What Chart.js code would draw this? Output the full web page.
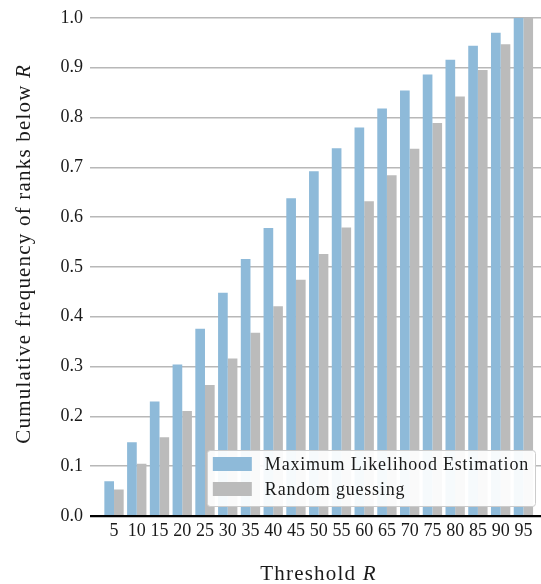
<!DOCTYPE html>
<html>
<head>
<meta charset="utf-8">
<script src="https://cdn.jsdelivr.net/npm/chart.js@4/dist/chart.umd.min.js"></script>
<style>
  html, body { margin: 0; padding: 0; background: #ffffff; }
  #c { display: block; }
</style>
</head>
<body>
<canvas id="c" width="541" height="584"></canvas>
<script>
// Rank thresholds R on the x axis
const thresholds = [5, 10, 15, 20, 25, 30, 35, 40, 45, 50, 55, 60, 65, 70, 75, 80, 85, 90, 95];

// Cumulative frequency of ranks below R
const mleValues = [0.070, 0.148, 0.230, 0.304, 0.376, 0.448, 0.516, 0.578, 0.638, 0.692,
                   0.738, 0.780, 0.818, 0.854, 0.886, 0.916, 0.944, 0.970, 1.000];
const randomValues = [0.053, 0.105, 0.158, 0.211, 0.263, 0.316, 0.368, 0.421, 0.474, 0.526,
                      0.579, 0.632, 0.684, 0.737, 0.789, 0.842, 0.895, 0.947, 1.000];

const seriesLabels = ['Maximum Likelihood Estimation', 'Random guessing'];
const yTickValues = [0, 0.1, 0.2, 0.3, 0.4, 0.5, 0.6, 0.7, 0.8, 0.9, 1.0];

const SERIF = '"Liberation Serif", "DejaVu Serif", serif';
const BLUE = '#8ebad9';
const GREY = '#bbbbbb';
const TEXT = '#1a1a1a';

// Axis titles (with an italic R) and the framed legend in the lower right
const annotations = {
  id: 'annotations',
  afterDraw(chart) {
    const ctx = chart.ctx;
    const area = chart.chartArea;

    function mixed(parts, cx, cy, rot, size, spacing) {
      ctx.save();
      ctx.translate(cx, cy);
      ctx.rotate(rot);
      ctx.letterSpacing = spacing + 'px';
      ctx.fillStyle = TEXT;
      ctx.textBaseline = 'middle';
      ctx.textAlign = 'left';
      let total = 0;
      const widths = parts.map(p => {
        ctx.font = (p.italic ? 'italic ' : '') + size + 'px ' + SERIF;
        const w = ctx.measureText(p.text).width;
        total += w;
        return w;
      });
      let x = -total / 2;
      parts.forEach((p, i) => {
        ctx.font = (p.italic ? 'italic ' : '') + size + 'px ' + SERIF;
        ctx.fillText(p.text, x, 0);
        x += widths[i];
      });
      ctx.restore();
    }

    mixed([{ text: 'Threshold ' }, { text: 'R', italic: true }],
          (area.left + area.right) / 2 + 3, area.bottom + 58, 0, 21, 1.2);
    mixed([{ text: 'Cumulative frequency of ranks below ' }, { text: 'R', italic: true }],
          24, area.top + 236, -Math.PI / 2, 21, 1.2);

    // legend
    ctx.save();
    const fontSize = 18;
    ctx.font = fontSize + 'px ' + SERIF;
    ctx.letterSpacing = '0.8px';
    const datasets = chart.data.datasets;
    let maxText = 0;
    datasets.forEach(d => { maxText = Math.max(maxText, ctx.measureText(d.label).width); });
    const pad = 6, swW = 39, swH = 14, gap = 13, rowH = 25;
    const boxW = pad + swW + gap + maxText + pad;
    const boxH = 56;
    const bx = area.right - 6 - boxW;
    const by = area.bottom - 10 - boxH;
    ctx.beginPath();
    if (ctx.roundRect) ctx.roundRect(bx + 0.5, by + 0.5, boxW, boxH, 3);
    else ctx.rect(bx + 0.5, by + 0.5, boxW, boxH);
    ctx.fillStyle = 'rgba(255,255,255,0.92)';
    ctx.fill();
    ctx.strokeStyle = '#cccccc';
    ctx.lineWidth = 1;
    ctx.stroke();
    datasets.forEach((d, i) => {
      const cy = by + 14 + i * rowH;
      ctx.fillStyle = d.backgroundColor;
      ctx.fillRect(bx + pad, cy - swH / 2, swW, swH);
      ctx.fillStyle = TEXT;
      ctx.textBaseline = 'middle';
      ctx.textAlign = 'left';
      ctx.fillText(d.label, bx + pad + swW + gap, cy + 1);
    });
    ctx.restore();
  }
};

new Chart(document.getElementById('c'), {
  type: 'bar',
  data: {
    datasets: [
      {
        label: seriesLabels[0],
        data: thresholds.map((r, i) => ({ x: r, y: mleValues[i] })),
        backgroundColor: BLUE,
        borderWidth: 0,
        categoryPercentage: 0.85,
        barPercentage: 1.0
      },
      {
        label: seriesLabels[1],
        data: thresholds.map((r, i) => ({ x: r, y: randomValues[i] })),
        backgroundColor: GREY,
        borderWidth: 0,
        categoryPercentage: 0.85,
        barPercentage: 1.0
      }
    ]
  },
  options: {
    responsive: false,
    animation: false,
    devicePixelRatio: 1,
    layout: { padding: { top: 16, right: 0, bottom: 0, left: 0 } },
    plugins: {
      legend: { display: false },
      tooltip: { enabled: false }
    },
    scales: {
      x: {
        type: 'linear',
        offset: false,
        bounds: 'data',
        min: -0.28,
        max: 98.87,
        grid: { display: false, drawTicks: false, offset: false },
        border: { display: false },
        ticks: {
          autoSkip: false,
          maxRotation: 0,
          padding: 4,
          color: TEXT,
          font: { family: SERIF, size: 18 },
          callback: v => String(v)
        },
        afterBuildTicks: scale => { scale.ticks = thresholds.map(v => ({ value: v })); },
        afterFit: scale => { scale.height = 68; }
      },
      y: {
        min: 0,
        max: 1,
        grid: {
          drawTicks: false,
          color: c => (c.tick && c.tick.value === 0 ? '#000000' : '#b8b8b8'),
          lineWidth: c => (c.tick && c.tick.value === 0 ? 2.2 : 1.4)
        },
        border: { display: false },
        ticks: {
          padding: 7,
          color: TEXT,
          font: { family: SERIF, size: 18 },
          callback: v => Number(v).toFixed(1)
        },
        afterBuildTicks: scale => { scale.ticks = yTickValues.map(v => ({ value: v })); },
        afterFit: scale => { scale.width = 90; }
      }
    }
  },
  plugins: [annotations]
});
</script>
</body>
</html>
